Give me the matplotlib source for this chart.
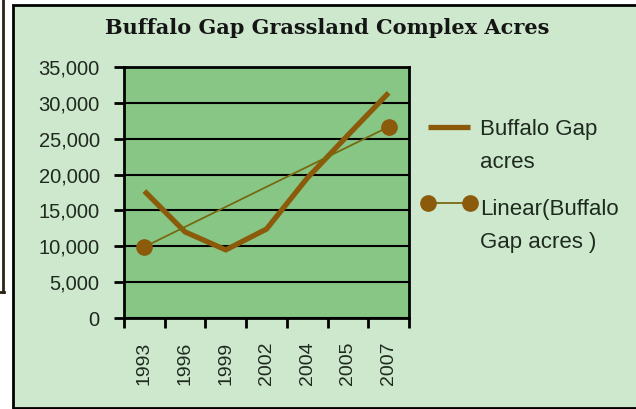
import numpy as np
import matplotlib
matplotlib.use('Agg')
import matplotlib.pyplot as plt
from matplotlib.patches import Rectangle
from matplotlib.lines import Line2D
from matplotlib.ticker import FuncFormatter
from matplotlib.legend_handler import HandlerLine2D

# ---- data ----
years = ['1993', '1996', '1999', '2002', '2004', '2005', '2007']
acres = [17700, 12000, 9500, 12400, 19500, 25500, 31400]
y_tick_values = [0, 5000, 10000, 15000, 20000, 25000, 30000, 35000]
title = 'Buffalo Gap Grassland Complex Acres'
series_label = 'Buffalo Gap\nacres'
trend_label = 'Linear(Buffalo\nGap acres )'

# ---- style ----
W, H = 636, 409
frame_bg = '#cde8cc'
plot_bg = '#88c686'
brown = '#8b5a0a'
olive = '#766a10'
text_col = '#1f2a1f'

plt.rcParams['font.family'] = ['Liberation Sans', 'DejaVu Sans']


class RaisedHandler(HandlerLine2D):
    """Line handle aligned with the first line of a two-line label."""
    def __init__(self, raise_pt, **kw):
        super().__init__(**kw)
        self.raise_pt = raise_pt

    def create_artists(self, legend, orig_handle, xdescent, ydescent, width, height,
                       fontsize, trans):
        arts = super().create_artists(legend, orig_handle, xdescent, ydescent, width,
                                      height, fontsize, trans)
        for a in arts:
            a.set_ydata(np.asarray(a.get_ydata()) + self.raise_pt)
        return arts


fig = plt.figure(figsize=(W / 100, H / 100), dpi=100)
fig.patch.set_facecolor('white')

# outer chart frame
frame = Rectangle((13 / W, 1 / H), 1.0, (408 - 5) / H, transform=fig.transFigure,
                  facecolor=frame_bg, edgecolor='black', linewidth=2, zorder=0)
fig.add_artist(frame)
# left decoration (edge of neighbouring frame)
fig.add_artist(Line2D([3 / W, 3 / W], [1, 1 - 292 / H], transform=fig.transFigure,
                      color='#2a2418', lw=2))
fig.add_artist(Line2D([0, 4 / W], [1 - 292 / H, 1 - 292 / H], transform=fig.transFigure,
                      color='#2a2418', lw=2))

ax = fig.add_axes([124 / W, 1 - 318 / H, 285 / W, 251 / H])
ax.set_facecolor(plot_bg)

x = np.arange(len(years))
l1, = ax.plot(x, acres, color=brown, lw=3.8, solid_capstyle='butt', solid_joinstyle='miter',
              label=series_label, zorder=3)
fit = np.polyfit(x, acres, 1)
trend = np.polyval(fit, x)
l2, = ax.plot(x, trend, color=olive, lw=1.3, marker='o', markevery=[0, -1], ms=11,
              mfc=brown, mec=brown, label=trend_label, zorder=4)

ax.set_xlim(-0.5, len(years) - 0.5)
ax.set_ylim(0, 35000)
ax.set_yticks(y_tick_values)
ax.yaxis.set_major_formatter(FuncFormatter(lambda v, p: f'{int(v):,}'))
ax.set_xticks(np.arange(-0.5, len(years)), [''] * (len(years) + 1))
ax.set_xticks(x, years, minor=True)
ax.tick_params(axis='x', which='major', direction='out', length=7, width=2, color='black')
ax.tick_params(axis='x', which='minor', length=0, pad=17, labelsize=14, labelrotation=90,
               labelcolor=text_col)
ax.tick_params(axis='y', direction='out', length=7, width=2, color='black', pad=10.5,
               labelsize=14.5, labelcolor=text_col)
ax.grid(axis='y', color='black', lw=1.5)
ax.set_axisbelow(True)
for s in ax.spines.values():
    s.set_color('black')
    s.set_linewidth(2)

fig.text(327 / W, 1 - 28 / H, title, ha='center', va='center', fontsize=15,
         fontweight='bold', family='DejaVu Serif', color='#151515')

leg = ax.legend(handles=[l1, l2], loc='upper left', bbox_to_anchor=(421 / W, 1 - 119 / H),
                bbox_transform=fig.transFigure, frameon=False, fontsize=16,
                handlelength=2.5, handletextpad=0.15, labelspacing=1.15, borderpad=0,
                borderaxespad=0, numpoints=2,
                handler_map={l1: RaisedHandler(13.5), l2: RaisedHandler(16.5)})
for t in leg.get_texts():
    t.set_linespacing(1.75)
    t.set_color(text_col)

fig.savefig('out.png', dpi=100, facecolor=fig.get_facecolor())
